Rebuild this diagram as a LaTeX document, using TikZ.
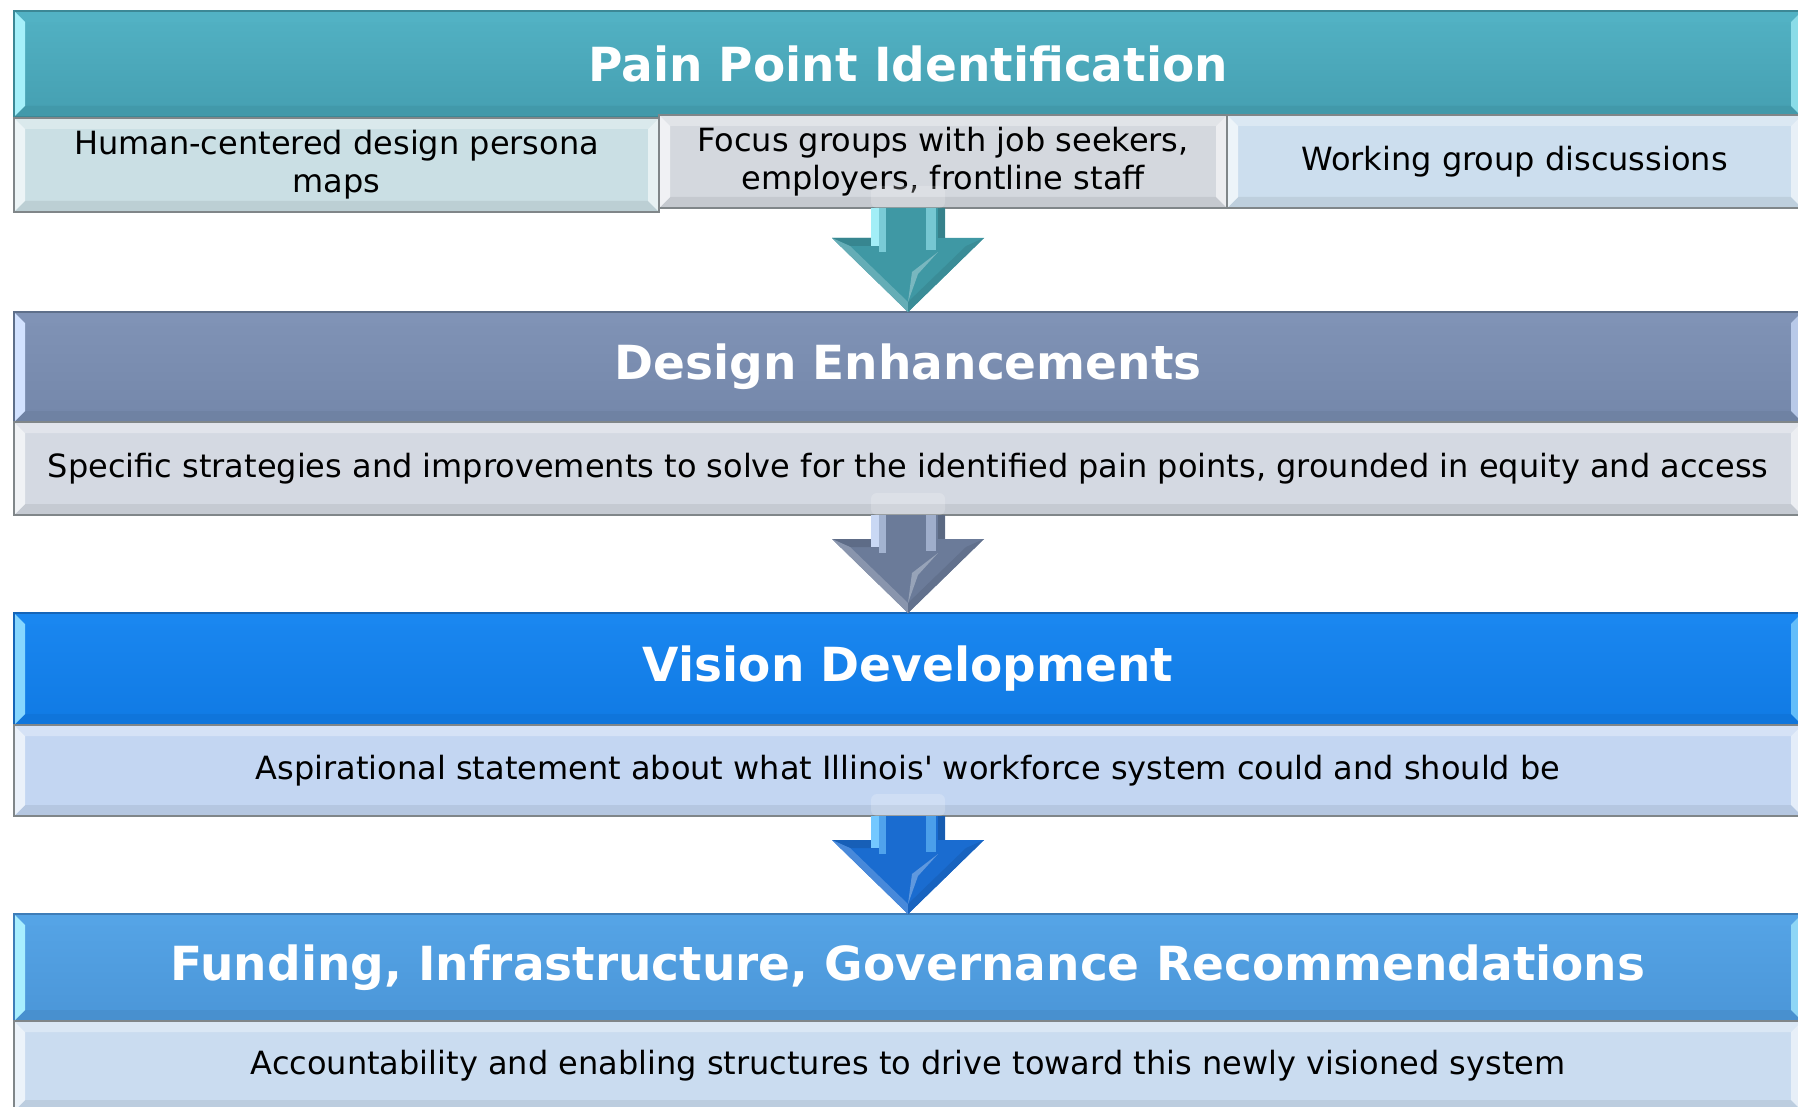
\documentclass[tikz,border=0pt]{standalone}
\usepackage{fontspec}
\setmainfont{DejaVu Sans}
\usetikzlibrary{calc}

% ---- colours -------------------------------------------------------
\definecolor{tealH}{HTML}{4CACBE}
\definecolor{tealHt}{HTML}{52B2C4}
\definecolor{tealHb}{HTML}{459FB1}
\definecolor{tealL}{HTML}{A5F0FA}
\definecolor{tealD}{HTML}{3C8896}
\definecolor{slateH}{HTML}{7A8EB2}
\definecolor{slateHt}{HTML}{8093B6}
\definecolor{slateHb}{HTML}{7487AA}
\definecolor{slateL}{HTML}{D2E2FF}
\definecolor{slateD}{HTML}{5E6F8A}
\definecolor{vivH}{HTML}{1282EE}
\definecolor{vivHt}{HTML}{1A87F0}
\definecolor{vivHb}{HTML}{107AE4}
\definecolor{vivL}{HTML}{86D6FF}
\definecolor{vivD}{HTML}{1565B8}
\definecolor{skyH}{HTML}{509FE2}
\definecolor{skyHt}{HTML}{55A4E6}
\definecolor{skyHb}{HTML}{4B96D8}
\definecolor{skyL}{HTML}{A8EEFF}
\definecolor{skyD}{HTML}{3E7DB8}
\definecolor{rowA}{HTML}{CADFE4}
\definecolor{rowB}{HTML}{D4D8DE}
\definecolor{rowC}{HTML}{CCDEEE}
\definecolor{rowG}{HTML}{D4D9E2}
\definecolor{rowV}{HTML}{C3D6F2}
\definecolor{rowS}{HTML}{CADCF0}
\definecolor{rowEdge}{HTML}{808689}
\definecolor{arT}{HTML}{3F98A4}
\definecolor{arTl}{HTML}{A2EEF7}
\definecolor{arS}{HTML}{6B7B99}
\definecolor{arSl}{HTML}{C9D8F4}
\definecolor{arV}{HTML}{1A6CD0}
\definecolor{arVl}{HTML}{74C8FF}

\def\bv{11}

\tikzset{
  % a flat box with four bevelled edge bands: top, left, right, bottom
  bevel/.style n args={4}{path picture={
    \path (path picture bounding box.north west) coordinate (bnw)
          (path picture bounding box.north east) coordinate (bne)
          (path picture bounding box.south west) coordinate (bsw)
          (path picture bounding box.south east) coordinate (bse);
    \fill[#1] (bnw) -- (bne) -- ($(bne)+(-\bv,\bv)$) -- ($(bnw)+(\bv,\bv)$) -- cycle;
    \fill[#4] (bsw) -- ($(bsw)+(\bv,-\bv)$) -- ($(bse)+(-\bv,-\bv)$) -- (bse) -- cycle;
    \fill[#2] (bnw) -- ($(bnw)+(\bv,\bv)$) -- ($(bsw)+(\bv,-\bv)$) -- (bsw) -- cycle;
    \fill[#3] (bne) -- (bse) -- ($(bse)+(-\bv,-\bv)$) -- ($(bne)+(-\bv,\bv)$) -- cycle;
  }},
  boxbase/.style={rectangle, anchor=north west, inner sep=0pt, outer sep=0pt,
                  line width=1.6pt, align=center},
  header/.style n args={5}{boxbase, draw=#5, top color=#2, bottom color=#3,
                  bevel={#2}{#4}{#4!70!#1}{#3!96!black},
                  text=white, font=\fontsize{47}{54}\selectfont\bfseries},
  rowbox/.style={boxbase, draw=rowEdge, fill=#1,
                  bevel={#1!70!white}{#1!35!white}{#1!45!white}{#1!93!black},
                  text=black, font=\fontsize{32}{38}\selectfont},
}

% block arrow pointing down from #1 to the tip #2
\newcommand\flowarrow[4]{%
  \fill[white, opacity=0.2, rounded corners=6pt]
    ($(#1)+(-37,-22)$) rectangle ($(#1)+(37,0)$);
  \fill[#3] ($(#1)+(-37,0)$) -- ($(#2)+(-37,-74)$) -- ($(#2)+(-76,-74)$)
    -- (#2) -- ($(#2)+(76,-74)$) -- ($(#2)+(37,-74)$) -- ($(#1)+(37,0)$) -- cycle;
  % head facets
  \fill[#3!88!black] ($(#2)+(-76,-74)$) -- ($(#2)+(-37,-74)$) -- ($(#2)+(-30,-66)$)
    -- ($(#2)+(-58,-66)$) -- cycle;
  \fill[#3!80!white] ($(#2)+(-58,-66)$) -- ($(#2)+(0,-10)$) -- (#2) -- ($(#2)+(-76,-74)$) -- cycle;
  \fill[#3!92!black] ($(#2)+(58,-66)$) -- ($(#2)+(0,-10)$) -- (#2) -- ($(#2)+(76,-74)$) -- cycle;
  \fill[#3!70!white] ($(#2)+(0,-10)$) -- ($(#2)+(10,-38)$) -- ($(#2)+(30,-60)$) -- ($(#2)+(4,-40)$) -- cycle;
  % shaft highlights
  \fill[#4] ($(#1)+(-37,0)$) rectangle ($(#2)+(-29,-66)$);
  \fill[#4!60!#3] ($(#1)+(-29,0)$) rectangle ($(#2)+(-22,-60)$);
  \fill[#4!55!#3] ($(#1)+(18,0)$) rectangle ($(#2)+(28,-62)$);
  \fill[#3!85!black] ($(#1)+(30,0)$) rectangle ($(#2)+(37,-74)$);
}

\begin{document}
\begin{tikzpicture}[x=1pt, y=-1pt]
\useasboundingbox (0,0) rectangle (1798,1107);
\fill[white] (0,0) rectangle (1798,1107);

% ---- stage 1 -------------------------------------------------------
\node[header={tealH}{tealHt}{tealHb}{tealL}{tealD},
      minimum width=1788pt, minimum height=106pt] (h1) at (14,11)
      {Pain Point Identification};
\node[rowbox=rowA, minimum width=645pt, minimum height=94pt] (r1a) at (14,118)
      {Human-centered design persona\\maps};
\node[rowbox=rowB, minimum width=568pt, minimum height=93pt] (r1b) at (659,115)
      {Focus groups with job seekers,\\employers, frontline staff};
\node[rowbox=rowC, minimum width=575pt, minimum height=93pt] (r1c) at (1227,115)
      {Working group discussions};

% ---- stage 2 -------------------------------------------------------
\node[header={slateH}{slateHt}{slateHb}{slateL}{slateD},
      minimum width=1788pt, minimum height=110pt] (h2) at (14,312)
      {Design Enhancements};
\node[rowbox=rowG, minimum width=1788pt, minimum height=93pt] (r2) at (14,422)
      {Specific strategies and improvements to solve for the identified pain points, grounded in equity and access};

% ---- stage 3 -------------------------------------------------------
\node[header={vivH}{vivHt}{vivHb}{vivL}{vivD},
      minimum width=1788pt, minimum height=112pt] (h3) at (14,613)
      {Vision Development};
\node[rowbox=rowV, minimum width=1788pt, minimum height=91pt] (r3) at (14,725)
      {Aspirational statement about what Illinois\textquotesingle\ workforce system could and should be};

% ---- stage 4 -------------------------------------------------------
\node[header={skyH}{skyHt}{skyHb}{skyL}{skyD},
      minimum width=1788pt, minimum height=107pt] (h4) at (14,914)
      {Funding, Infrastructure, Governance Recommendations};
\node[rowbox=rowS, minimum width=1788pt, minimum height=90pt] (r4) at (14,1021)
      {Accountability and enabling structures to drive toward this newly visioned system};

% ---- connectors between stages --------------------------------------
\coordinate (a1s) at (r1b.south -| h2.north);
\flowarrow{a1s}{h2.north}{arT}{arTl}
\coordinate (a2s) at (r2.south -| h3.north);
\flowarrow{a2s}{h3.north}{arS}{arSl}
\coordinate (a3s) at (r3.south -| h4.north);
\flowarrow{a3s}{h4.north}{arV}{arVl}
\end{tikzpicture}
\end{document}
